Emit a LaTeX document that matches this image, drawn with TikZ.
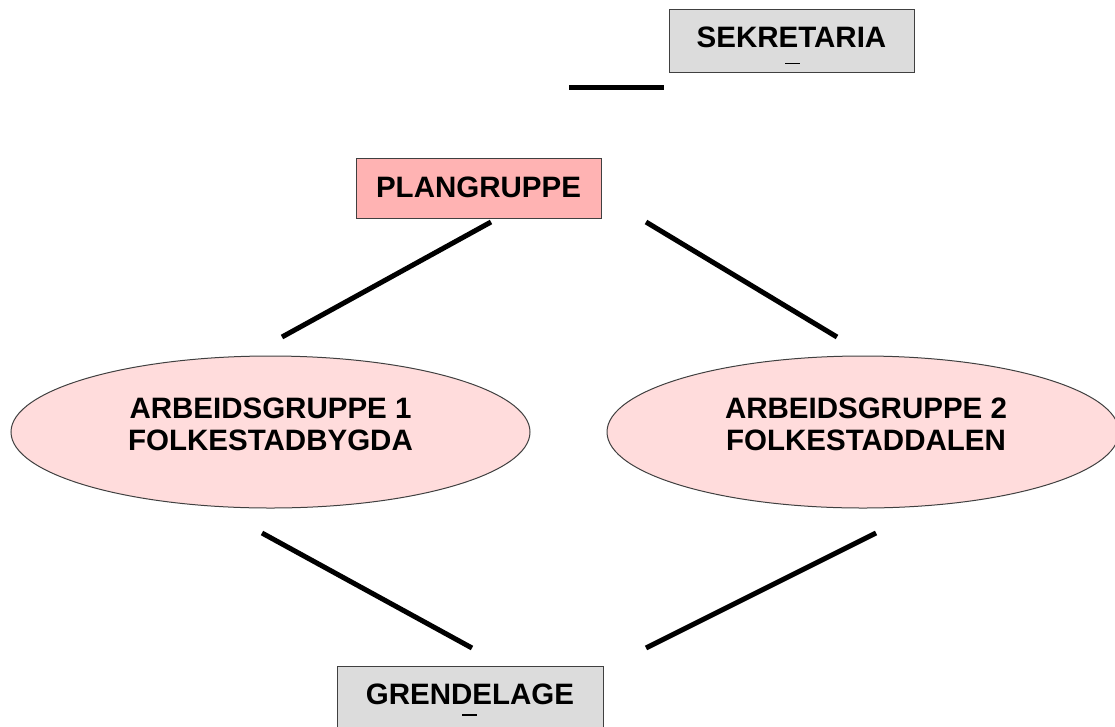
\documentclass[tikz,border=0pt]{standalone}
\usepackage{fontspec}
\setmainfont{Liberation Sans}
\usetikzlibrary{shapes.geometric}
\definecolor{boxgray}{HTML}{DCDCDC}
\definecolor{planpink}{HTML}{FFB3B3}
\definecolor{ellpink}{HTML}{FFDCDC}
\definecolor{edgegray}{HTML}{404040}
\tikzset{
  lbl/.style={font=\fontsize{29.5}{32}\selectfont\bfseries, align=center},
  graybox/.style={draw=edgegray, line width=1pt, fill=boxgray, inner sep=0pt},
  pinkbox/.style={draw=edgegray, line width=1pt, fill=planpink, inner sep=0pt},
  grpell/.style={draw=edgegray, line width=1pt, fill=ellpink, ellipse, inner sep=0pt},
  conn/.style={line width=5pt},
}
\begin{document}
\begin{tikzpicture}[x=1pt,y=-1pt]
\useasboundingbox (0,0) rectangle (1115,726);
\node[graybox, minimum width=245pt, minimum height=63pt] (sek) at (791.5,40.5) {};
\node[lbl] (sekt) at (791.5,37.5) {SEKRETARIA};
\node[pinkbox, minimum width=245pt, minimum height=60pt] (plan) at (478.5,188) {};
\node[lbl] (plant) at (478.5,187) {PLANGRUPPE};
\node[grpell, minimum width=519pt, minimum height=152pt] (ag1) at (270.5,432) {};
\node[lbl] (ag1t) at (270.5,424) {ARBEIDSGRUPPE 1\\FOLKESTADBYGDA};
\node[grpell, minimum width=512pt, minimum height=152pt] (ag2) at (863,432) {};
\node[lbl] (ag2t) at (866,424) {ARBEIDSGRUPPE 2\\FOLKESTADDALEN};
\node[graybox, minimum width=266pt, minimum height=64pt] (gren) at (470,698) {};
\node[lbl] (grent) at (470,694.5) {GRENDELAGE};
% small marks
\coordinate (sekm) at (792.5,63);
\draw[line width=1pt] ([xshift=-7.5pt]sekm) -- ([xshift=7.5pt]sekm);
\coordinate (grenm) at (469.5,715);
\draw[line width=2pt] ([xshift=-7.5pt]grenm) -- ([xshift=7.5pt]grenm);
% connectors (free-standing segments)
\coordinate (h1) at (569,87); \coordinate (h2) at (664,87);
\draw[conn] (h1) -- (h2);
\coordinate (a1) at (491,222); \coordinate (a2) at (282,337);
\draw[conn] (a1) -- (a2);
\coordinate (b1) at (646,222); \coordinate (b2) at (837,337);
\draw[conn] (b1) -- (b2);
\coordinate (c1) at (262,533); \coordinate (c2) at (472,648);
\draw[conn] (c1) -- (c2);
\coordinate (d1) at (876,533); \coordinate (d2) at (646,648);
\draw[conn] (d1) -- (d2);
\end{tikzpicture}
\end{document}
